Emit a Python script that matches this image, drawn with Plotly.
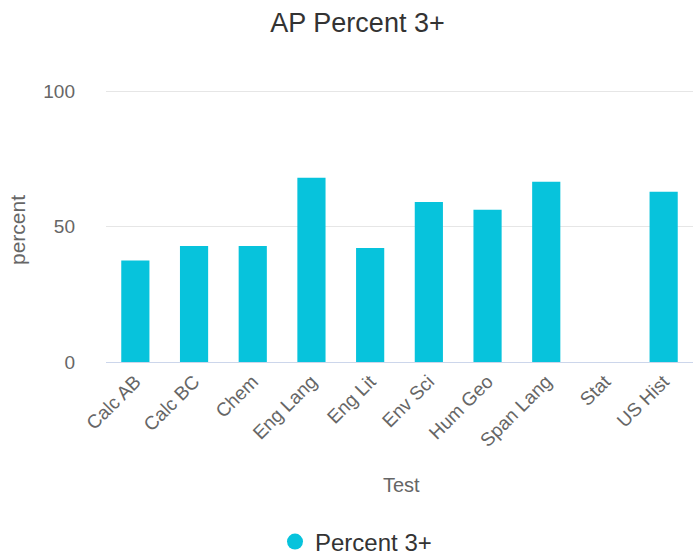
import plotly.graph_objects as go

tests = ["Calc AB", "Calc BC", "Chem", "Eng Lang", "Eng Lit", "Env Sci",
         "Hum Geo", "Span Lang", "Stat", "US Hist"]
percent_3plus = [37.5, 42.8, 42.8, 68.0, 42.1, 59.1, 56.2, 66.5, 0, 62.8]
series_name = "Percent 3+"
bar_color = "#07c3dc"

L, R, T, B = 106, 693, 90, 362
W, H = 693, 556
pw, ph = R - L, B - T
y_top = 100.4

fig = go.Figure()
fig.add_trace(go.Bar(x=tests, y=percent_3plus, name=series_name,
                     marker=dict(color=bar_color, line=dict(width=0)),
                     width=0.48, showlegend=False, hoverinfo="x+y"))
fig.add_trace(go.Scatter(x=[None], y=[None], mode="markers", name=series_name,
                         marker=dict(color=bar_color, size=20, symbol="circle")))

font_family = "Liberation Sans, Arial, sans-serif"
fig.update_layout(
    width=W, height=H,
    margin=dict(l=L, r=W - R, t=T, b=H - B, autoexpand=False),
    paper_bgcolor="white", plot_bgcolor="white",
    font=dict(family=font_family, color="#666666"),
    title=dict(text="AP Percent 3+", x=357.5 / W, xref="container", xanchor="center",
               y=1 - 23 / H, yref="container", yanchor="middle",
               font=dict(size=27, color="#333333", family=font_family)),
    showlegend=True,
    legend=dict(orientation="h", x=(275 - L) / pw, xanchor="left",
                y=-(542 - B) / ph, yanchor="middle",
                font=dict(size=24, color="#333333"), itemsizing="trace"),
)
fig.update_xaxes(type="category", tickangle=-45, tickfont=dict(size=19, color="#666666"),
                 showline=True, linecolor="#ccd6eb", linewidth=1, ticks="",
                 showgrid=False, automargin=False)
fig.update_yaxes(range=[0, y_top], tickvals=[0, 50, 100], tickfont=dict(size=19, color="#666666"),
                 showgrid=True, gridcolor="#e6e6e6", gridwidth=1, zeroline=False,
                 ticklabelstandoff=30, showline=False, automargin=False)
fig.add_annotation(text="Test", xref="paper", yref="paper", x=(402 - L) / pw, y=-(485 - B) / ph,
                   showarrow=False, font=dict(size=20, color="#666666"),
                   xanchor="center", yanchor="middle")
fig.add_annotation(text="percent", xref="paper", yref="paper", x=-(L - 17) / pw, y=(B - 230) / ph,
                   showarrow=False, textangle=-90, font=dict(size=21, color="#666666"),
                   xanchor="center", yanchor="middle")
fig.write_html("out.html", config={"displayModeBar": False},
               post_script="document.body.style.margin='0';document.body.style.overflow='hidden';")
